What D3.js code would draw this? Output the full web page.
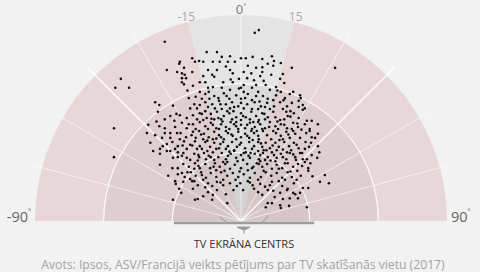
<!DOCTYPE html>
<html>
<head>
<meta charset="utf-8">
<script src="https://cdn.jsdelivr.net/npm/d3@7"></script>
<style>
  html, body { margin: 0; padding: 0; background: #f2f2f2; }
  svg { display: block; font-family: "Open Sans", "Noto Sans", sans-serif; }
</style>
</head>
<body>
<div id="chart"></div>
<script>
// viewer positions relative to the TV centre, in cm: [sideways, distance]
const viewers = [
  [20,274],[26,278],[-111,261],
  [-50,246],[-35,246],[0,237],[7,237],[17,239],[-16,240],[-71,237],[31,236],[45,240],[-28,239],
  [-67,232],[-61,233],[-55,232],[-41,232],[-31,232],[-19,232],[-9,232],[-89,232],[-90,229],[48,233],
  [58,230],[47,226],[22,223],[10,226],[-83,223],[74,223],[137,223],[31,224],[-108,220],
  [-48,220],[-35,220],[-16,220],[-12,215],[-93,217],[-86,215],[-82,213],[-86,208],[-80,208],[-71,217],
  [4,217],[15,215],[31,217],[28,211],[-175,207],[44,213],[61,214],[-39,210],[9,208],[-55,211],
  [-60,202],[-52,202],[-26,202],[-12,202],[-41,195],[-28,194],[-16,191],[-86,202],[-83,199],[-183,194],
  [-163,194],[19,205],[33,204],[57,207],[4,198],[36,198],[51,195],[63,201],[0,194],[16,194],[-48,194],[-70,197],
  [42,191],[76,188],[86,183],[87,179],[25,188],[10,185],[-7,183],[-25,186],[-39,182],[-52,185],[-66,181],
  [-76,179],[32,182],[51,183],[64,179],[0,178],[-17,178],[-33,179],[16,176],[58,188],[-47,188],[-57,178],
  [39,178],[4,188],[71,185],
  [-125,173],[-119,169],[-74,164],[-64,164],[84,175],[90,169],[84,166],[93,164],[-52,173],[-42,170],
  [-32,175],[-22,170],[-13,173],[-4,167],[0,172],[9,170],[20,173],[29,167],[38,172],[48,167],[57,173],
  [67,167],[74,172],[-38,164],[-28,163],[-16,164],[16,163],[25,163],[42,163],[61,163],[-60,169],[-48,166],
  [4,164],[35,166],[-10,166],
  [-121,159],[-89,154],[-70,154],[-60,157],[90,162],[68,153],[57,147],[-52,160],[-44,156],[-35,159],
  [-25,153],[-17,157],[-7,151],[0,157],[7,151],[15,159],[22,153],[31,157],[39,151],[47,159],[77,157],
  [84,150],[-50,150],[-39,148],[-29,148],[-13,148],[0,147],[26,147],[35,148],[50,151],[66,159],[-79,150],
  [-64,148],[-103,153],[13,148],[-20,160],[63,148],[103,146],[-111,148],
  [-111,135],[-79,135],[-70,141],[-185,135],[-135,140],[-60,144],[-52,138],[-44,143],[-36,135],[-29,141],
  [-22,137],[-15,144],[-7,138],[0,140],[6,135],[13,143],[20,137],[28,141],[35,135],[42,144],[50,138],
  [58,141],[67,135],[76,143],[83,137],[93,141],[100,134],[-86,143],[-96,137],[-119,138],[-66,134],
  [-48,134],[-32,134],[-17,134],[-4,134],[16,134],[31,134],[54,134],[74,134],[-55,147],[25,144],[63,140],
  [112,141],[-10,141],[-41,140],[9,140],
  [-103,128],[-93,128],[-70,130],[-125,125],[-115,121],[-80,122],[-61,131],[-54,127],[-47,122],[-39,130],
  [-32,125],[-25,119],[-19,128],[-12,124],[-4,130],[0,122],[6,127],[12,121],[19,128],[25,124],[32,131],
  [38,125],[44,119],[51,128],[58,124],[66,130],[71,121],[79,127],[86,121],[95,128],[103,122],[112,127],
  [-89,119],[-66,121],[-41,119],[-7,119],[26,119],[61,119],[-55,119],[-103,121],[-22,131],[15,131],
  [47,131],[76,131],[-137,128],[-111,128],[-29,122],[100,131],
  [-118,105],[-114,109],[-132,114],[-100,115],[-92,109],[-83,116],[-74,111],[-67,116],[-60,109],[-52,115],
  [-45,108],[-39,114],[-32,106],[-26,115],[-19,109],[-13,115],[-6,108],[0,114],[6,106],[12,115],[19,109],
  [25,115],[31,108],[36,114],[42,106],[50,114],[55,108],[63,115],[70,109],[77,114],[84,106],[93,105],
  [102,114],[112,109],[-79,105],[-64,105],[-36,105],[-22,105],[16,105],[33,103],[52,103],[73,103],
  [-57,105],[-10,103],[-96,105],[99,108],[114,100],
  [-108,102],[-103,102],[-92,100],[-92,93],[-79,92],[-74,89],[-185,93],[103,96],[96,90],[-84,99],[-68,98],
  [-61,93],[-54,99],[-47,95],[-41,100],[-33,93],[-28,99],[-22,90],[-15,98],[-7,92],[0,96],[7,100],
  [13,92],[20,98],[26,90],[32,99],[39,93],[45,100],[52,92],[58,98],[66,90],[71,99],[79,93],[86,99],
  [90,90],[-99,92],[-118,98],[-39,89],[3,89],[35,89],[80,89],[25,102],[-10,102],[-51,90],[67,100],[111,92],
  [-100,77],[-118,82],[-84,83],[-76,79],[-67,84],[-60,77],[-52,83],[-45,77],[-38,84],[-31,79],[-23,83],
  [-16,76],[-9,82],[0,77],[9,83],[16,77],[23,84],[31,79],[38,83],[45,76],[52,82],[60,77],[68,84],[76,79],
  [83,83],[98,77],[64,84],[-92,77],[-36,74],[10,74],[-20,86],[28,87],[93,86],[-68,76],[50,87],
  [-92,68],[-86,70],[122,67],[98,73],[-82,64],[-73,71],[-66,66],[-58,71],[-51,63],[-44,70],[-36,64],
  [-29,71],[-20,66],[-12,70],[-4,64],[4,68],[13,63],[20,70],[29,64],[36,71],[44,66],[52,70],[60,63],
  [68,71],[74,64],[82,73],[87,66],[-106,66],[-55,60],[-26,60],[25,60],[64,60],[-74,61],
  [-95,54],[-96,58],[-84,57],[115,57],[128,55],[-71,58],[-63,52],[-48,55],[-42,51],[-35,57],[-26,52],
  [-16,55],[-6,51],[-1,55],[10,58],[17,52],[28,54],[35,50],[90,48],[98,48],[68,47],[60,51],[77,55],
  [45,57],[-70,47],[39,45],
  [47,44],[57,41],[67,45],[76,41],[86,41],[79,39],[61,32],[71,33],[83,33],[-67,31],[-63,32],[-42,31],
  [-41,38],[-48,42],[3,45],[25,42],[31,38],[-87,41],[-22,39],
  [-20,26],[36,20],[45,26],[39,26],[57,23],[58,19],[96,20],[70,22],[-99,31],
  // denser core
  [-57,156],[-43,149],[-27,145],[-11,160],[3,153],[18,144],[34,156],[53,145],[72,152],[-76,141],
  [-88,128],[-58,126],[-36,120],[-14,126],[9,124],[23,131],[41,137],[56,118],[69,126],[88,133],
  [-71,110],[-49,102],[-30,112],[-17,101],[-2,111],[14,99],[29,113],[46,110],[61,104],[81,111],
  [-86,95],[-63,88],[-44,93],[-26,86],[-5,87],[11,95],[28,96],[43,88],[61,93],[76,97],
  [-78,71],[-62,80],[-40,79],[-24,73],[-2,72],[18,79],[33,73],[55,76],[72,72],[89,80],
  [-68,58],[-52,49],[-30,56],[-11,45],[19,47],[42,52],[55,58],[81,60],[-90,47],[104,65],
  [-46,178],[-21,182],[6,179],[27,174],[47,176],[-60,188],[-30,170],[-3,193],[22,182],[53,190],
  [-97,146],[-108,112],[-128,102],[94,115],[108,121],[-123,145],[-99,168],[-94,156],[82,142],[96,146],
  [-15,206],[-42,213],[22,198],[-22,225],[39,229],[-3,207],[-78,190],[-68,170],[72,160],[62,176],
  [-33,150],[-7,144],[17,118],[37,103],[-49,117],[-62,96],[-19,95],[4,99],[26,83],[48,96],
  [-85,110],[-72,125],[89,99],[101,84],[-57,67],[-8,60],[13,56],[-35,45],[49,35],[-55,36]
];

// distance rings (cm) and angle zones (degrees)
const rings = [300, 200, 100];
const sideShade = ["#e8d7d8", "#dfcecf", "#d7c6c7"];
const midShade = ["#e4e4e4", "#dadada", "#d2d2d2"];
const zones = [[-90, -15, "side"], [-15, 15, "mid"], [15, 90, "side"]];
const spokes = [-75, -60, -45, -30, 0, 30, 45, 60, 75];
const angleTicks = [-15, 0, 15];
const edgeTicks = [-90, 90];

const width = 480, height = 272;
const cx = 241, cy = 221, R = 206;

const svg = d3.select("#chart").append("svg")
  .attr("width", width)
  .attr("height", height);

svg.append("rect").attr("width", width).attr("height", height).attr("fill", "#f2f2f2");

const r = d3.scaleLinear().domain([0, 300]).range([0, R]);
const x = d3.scaleLinear().domain([-300, 300]).range([cx - R, cx + R]);
const y = d3.scaleLinear().domain([0, 300]).range([cy, cy - R]);
const rad = d => d * Math.PI / 180;

const g = svg.append("g").attr("transform", `translate(${cx},${cy})`);

// shaded rings
rings.forEach((ring, i) => {
  zones.forEach(z => {
    g.append("path")
      .attr("d", d3.arc()({
        innerRadius: 0,
        outerRadius: r(ring),
        startAngle: rad(z[0]),
        endAngle: rad(z[1])
      }))
      .attr("fill", z[2] === "mid" ? midShade[i] : sideShade[i]);
  });
});

// ring outlines
rings.slice(1).forEach(ring => {
  g.append("path")
    .attr("d", d3.arc()({innerRadius: r(ring), outerRadius: r(ring), startAngle: rad(-90), endAngle: rad(90)}))
    .attr("fill", "none")
    .attr("stroke", "#fff")
    .attr("stroke-opacity", 0.75)
    .attr("stroke-width", 1);
});

// spokes
g.selectAll("line.spoke")
  .data(spokes)
  .enter().append("line")
  .attr("class", "spoke")
  .attr("x1", 0).attr("y1", 0)
  .attr("x2", d => Math.sin(rad(d)) * r(316))
  .attr("y2", d => -Math.cos(rad(d)) * r(316))
  .attr("stroke", "#fff")
  .attr("stroke-opacity", d => Math.abs(d) === 45 ? 0.9 : 0.65)
  .attr("stroke-width", d => Math.abs(d) === 45 ? 1.5 : 0.9);

// angle labels on top
g.selectAll("text.ang")
  .data(angleTicks)
  .enter().append("text")
  .attr("class", "ang")
  .attr("x", d => Math.sin(rad(d)) * r(308))
  .attr("y", d => -Math.cos(rad(d)) * r(308))
  .attr("dy", "0.36em")
  .attr("text-anchor", "middle")
  .attr("font-size", d => d === 0 ? 13 : 12)
  .attr("fill", d => d === 0 ? "#777" : "#aaa")
  .each(function(d) {
    const t = d3.select(this);
    t.append("tspan").text(d);
    if (d === 0) t.append("tspan").attr("font-size", 7).attr("dy", "-0.7em").text("°");
  });

// -90 / 90
svg.selectAll("text.edge")
  .data(edgeTicks)
  .enter().append("text")
  .attr("class", "edge")
  .attr("x", d => d < 0 ? x(-300) - 4 : x(300) + 4)
  .attr("y", cy + 1)
  .attr("text-anchor", d => d < 0 ? "end" : "start")
  .attr("font-size", 14.5)
  .attr("fill", "#666")
  .each(function(d) {
    const t = d3.select(this);
    t.append("tspan").text(d);
    t.append("tspan").attr("font-size", 7).attr("dy", "-1.1em").text("°");
  });

// TV
const tv = svg.append("g").attr("fill", "none").attr("stroke-linecap", "round");
tv.append("line")
  .attr("x1", cx - 66).attr("x2", cx + 72).attr("y1", cy + 2).attr("y2", cy + 2)
  .attr("stroke", "#9c9c9c").attr("stroke-width", 2.5);
tv.append("line")
  .attr("x1", cx - 66).attr("x2", cx + 72).attr("y1", cy + 0.5).attr("y2", cy + 0.5)
  .attr("stroke", "#cfcfcf").attr("stroke-width", 1);
tv.append("path")
  .attr("d", `M${cx - 21},${cy - 4}L${cx - 15},${cy + 1}M${cx + 27},${cy - 5}L${cx + 22},${cy + 1}`)
  .attr("stroke", "#a8a8a8").attr("stroke-width", 1.2);
tv.append("path")
  .attr("d", `M${cx - 4},${cy + 6}L${cx + 9},${cy + 6}L${cx + 3},${cy + 9}Z M${cx + 3},${cy + 8}L${cx + 3},${cy + 12}`)
  .attr("stroke", "#9c9c9c").attr("stroke-width", 1.2).attr("fill", "#9c9c9c");

// viewers
svg.append("g")
  .selectAll("circle")
  .data(viewers)
  .enter().append("circle")
  .attr("cx", d => x(d[0]))
  .attr("cy", d => y(d[1]))
  .attr("r", 1.3)
  .attr("fill", "#111");

svg.append("text")
  .attr("x", 244).attr("y", 248)
  .attr("text-anchor", "middle")
  .attr("font-size", 11)
  .attr("fill", "#333")
  .text("TV EKRĀNA CENTRS");

svg.append("text")
  .attr("x", 243).attr("y", 269)
  .attr("text-anchor", "middle")
  .attr("font-size", 12.2)
  .attr("fill", "#a3a3a3")
  .text("Avots: Ipsos, ASV/Francijā veikts pētījums par TV skatīšanās vietu (2017)");
</script>
</body>
</html>
